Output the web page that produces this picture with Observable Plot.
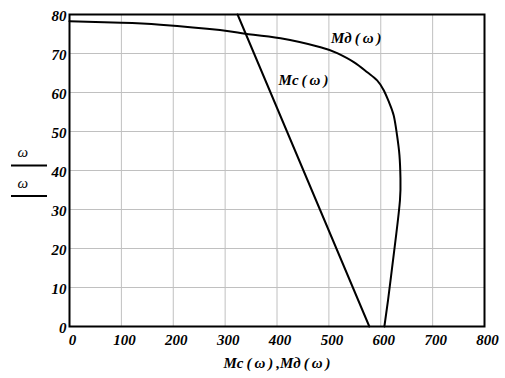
<!DOCTYPE html>
<html>
<head>
<meta charset="utf-8">
<script src="https://cdn.jsdelivr.net/npm/d3@7"></script>
<script src="https://cdn.jsdelivr.net/npm/@observablehq/plot@0.6"></script>
<style>
  html, body { margin: 0; padding: 0; background: #fff; }
</style>
</head>
<body>
<div id="chart"></div>
<script>
// Mc(ω): straight line
const mcOmega = [0, 80];
const mcValues = [578, 324];

// Mд(ω): motor mechanical characteristic
const mdOmega = [78.3, 77.9, 77.4, 76.0, 75.05, 73.9, 71.6, 70.1, 67.8, 65.2, 63.1, 60.5, 57.5, 54.1, 49.4, 44.0, 38.0, 32.3, 23.8, 15.2, 6.7, 0];
const mdValues = [0, 100, 175, 290, 339, 407, 484, 516, 548, 574, 593, 606, 616, 625, 631, 636, 638, 637, 630, 622, 614, 607];

const xTicks = [0, 100, 200, 300, 400, 500, 600, 700, 800];
const yTicks = [0, 10, 20, 30, 40, 50, 60, 70, 80];

const labelMc = "Mc\u2009(\u2009ω\u2009)";
const labelMd = "Mд\u2009(\u2009ω\u2009)";
const xTitle = "Mc\u2009(\u2009ω\u2009)\u2009,Mд\u2009(\u2009ω\u2009)";
const yTitle = "ω";

const mc = mcOmega.map((w, i) => ({w, m: mcValues[i]}));
const md = mdOmega.map((w, i) => ({w, m: mdValues[i]}));

const font = "Liberation Serif";
const txt = {fill: "black", fontFamily: font, fontSize: 15, fontWeight: "bold", fontStyle: "italic"};

const chart = Plot.plot({
  width: 505,
  height: 378,
  marginLeft: 69,
  marginRight: 21,
  marginTop: 14,
  marginBottom: 52,
  style: {fontFamily: font, fontSize: "15px", fontWeight: "bold", fontStyle: "italic", color: "black", background: "white"},
  x: {domain: [0, 800]},
  y: {domain: [0, 80]},
  marks: [
    Plot.gridX(xTicks, {stroke: "#c0c0c0", strokeOpacity: 1}),
    Plot.gridY(yTicks, {stroke: "#c0c0c0", strokeOpacity: 1}),
    Plot.axisX(xTicks, {tickSize: 0, tickPadding: 8, dx: 3, label: null, ...txt}),
    Plot.axisY(yTicks, {tickSize: 0, tickPadding: 3, dy: 2, label: null, ...txt}),
    Plot.line(mc, {x: "m", y: "w", stroke: "black", strokeWidth: 2}),
    Plot.line(md, {x: "m", y: "w", stroke: "black", strokeWidth: 2, curve: "natural"}),
    Plot.text([labelMd], {x: () => 504, y: () => 73.8, text: d => d, textAnchor: "start", ...txt}),
    Plot.text([labelMc], {x: () => 403, y: () => 63.1, text: d => d, textAnchor: "start", ...txt}),
    Plot.text([xTitle], {frameAnchor: "bottom", dy: 41, text: d => d, ...txt}),
    Plot.text([yTitle], {frameAnchor: "left", dx: -52, dy: -18, text: d => d, ...txt, fontWeight: "normal"}),
    Plot.text([yTitle], {frameAnchor: "left", dx: -52, dy: 13, text: d => d, ...txt, fontWeight: "normal"}),
    Plot.frame({stroke: "black", strokeWidth: 2})
  ]
});

// rules under each stacked y-title glyph, as in the reference
const svg = d3.select(chart);
[165.5, 196].forEach(yy => {
  svg.append("line").attr("x1", 11).attr("x2", 47).attr("y1", yy).attr("y2", yy)
    .attr("stroke", "black").attr("stroke-width", 2);
});

document.getElementById("chart").appendChild(chart);
</script>
</body>
</html>
